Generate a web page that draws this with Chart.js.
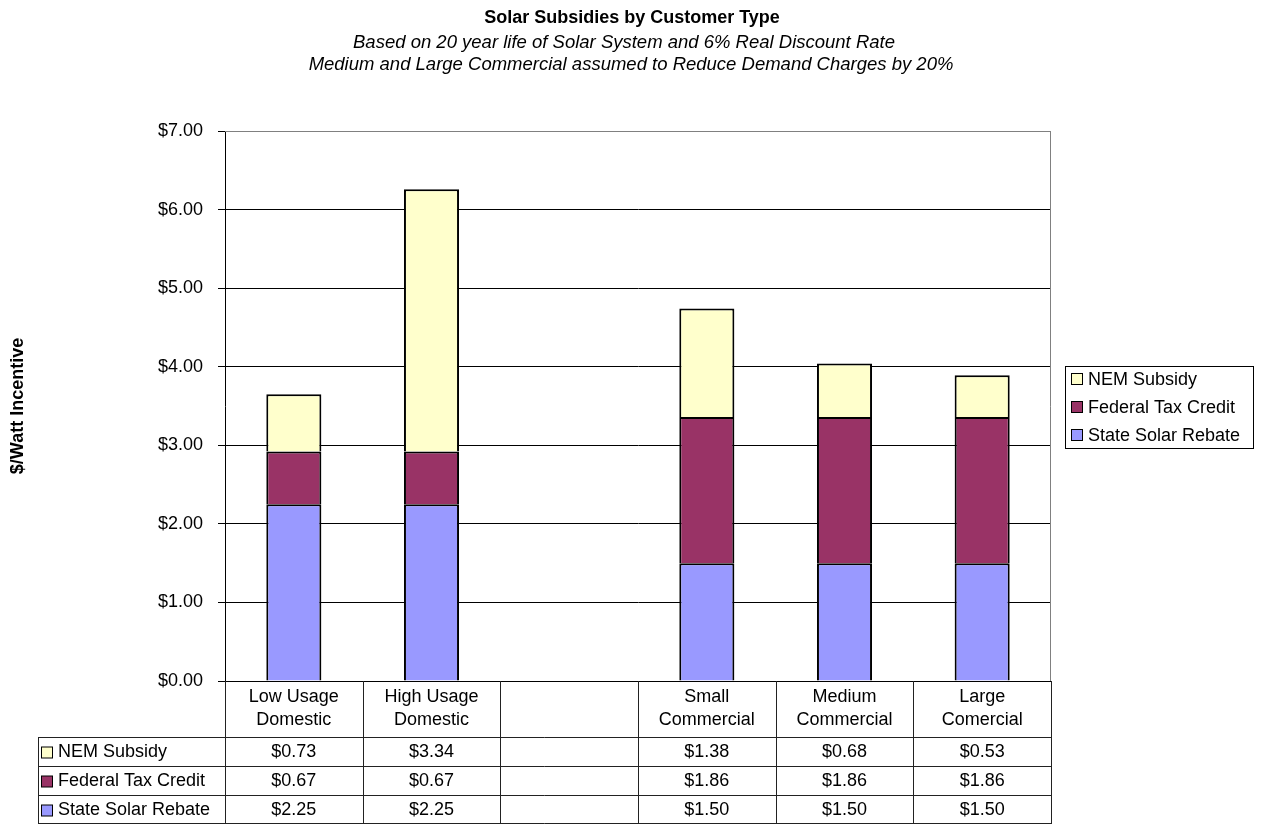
<!DOCTYPE html>
<html>
<head>
<meta charset="utf-8">
<title>Solar Subsidies by Customer Type</title>
<script src="https://cdn.jsdelivr.net/npm/chart.js@4.4.1/dist/chart.umd.min.js"></script>
<style>
  body { margin: 0; background: #fff; }
</style>
</head>
<body>
<canvas id="chart" width="1261" height="824"></canvas>
<script>
// ---- data ----
const categories = [['Low Usage', 'Domestic'], ['High Usage', 'Domestic'], '', ['Small', 'Commercial'], ['Medium', 'Commercial'], ['Large', 'Comercial']];
const stateRebate = [2.25, 2.25, null, 1.50, 1.50, 1.50];
const fedTaxCredit = [0.67, 0.67, null, 1.86, 1.86, 1.86];
const nemSubsidy = [0.73, 3.34, null, 1.38, 0.68, 0.53];
const seriesNames = ['State Solar Rebate', 'Federal Tax Credit', 'NEM Subsidy'];
const seriesColors = ['#9999FF', '#993366', '#FFFFCC'];
const yMin = 0, yMax = 7, yStep = 1;

const titleText = 'Solar Subsidies by Customer Type';
const subtitleLines = [
  'Based on 20 year life of Solar System and 6% Real Discount Rate',
  'Medium and Large Commercial assumed to Reduce Demand Charges by 20%'
];
const yTitle = '$/Watt Incentive';

const FONT = "'Liberation Sans', Arial, sans-serif";
const money = v => '$' + v.toFixed(2);

// title, legend box and the data table underneath
const extrasPlugin = {
  id: 'extras',
  afterDraw(chart) {
    const ctx = chart.ctx;
    const area = chart.chartArea;
    const xs = chart.scales.x;
    ctx.save();

    // titles
    ctx.fillStyle = '#000';
    ctx.textAlign = 'center';
    ctx.textBaseline = 'middle';
    ctx.font = 'bold 18px ' + FONT;
    ctx.fillText(titleText, 632, 18);
    ctx.font = 'italic 18.5px ' + FONT;
    ctx.fillText(subtitleLines[0], 624, 43);
    ctx.fillText(subtitleLines[1], 631, 65);

    // plot border (grey top/right)
    ctx.strokeStyle = '#808080';
    ctx.lineWidth = 1;
    ctx.beginPath();
    ctx.moveTo(area.left, area.top + 0.5);
    ctx.lineTo(area.right - 0.5, area.top + 0.5);
    ctx.lineTo(area.right - 0.5, area.bottom);
    ctx.stroke();

    // series in legend order (top = last stacked)
    const order = [2, 1, 0];

    // legend
    ctx.strokeStyle = '#000';
    ctx.strokeRect(1065.5, 366.5, 188, 82);
    ctx.font = '18px ' + FONT;
    ctx.textAlign = 'left';
    order.forEach((d, i) => {
      const y = 379 + i * 28;
      ctx.fillStyle = seriesColors[d];
      ctx.fillRect(1071.5, y - 5.5, 11, 11);
      ctx.strokeRect(1071.5, y - 5.5, 11, 11);
      ctx.fillStyle = '#000';
      ctx.fillText(seriesNames[d], 1088, y + 1);
    });

    // data table
    const colW = (area.right - area.left) / categories.length;
    const headTop = area.bottom, rowTop = 737, rowH = 29, tableLeft = 38.5;
    ctx.strokeStyle = '#222';
    ctx.beginPath();
    for (let r = 0; r <= 3; r++) {
      const y = Math.min(rowTop + r * rowH + 0.5, 823.5);
      ctx.moveTo(tableLeft, y);
      ctx.lineTo(area.right, y);
    }
    ctx.moveTo(tableLeft, rowTop);
    ctx.lineTo(tableLeft, 824);
    for (let i = 0; i <= categories.length; i++) {
      const x = Math.round(area.left + i * colW) + 0.5;
      ctx.moveTo(x, headTop);
      ctx.lineTo(x, 824);
    }
    ctx.stroke();

    ctx.fillStyle = '#000';
    ctx.textAlign = 'center';
    categories.forEach((c, i) => {
      const cx = xs.getPixelForValue(i);
      const lines = Array.isArray(c) ? c : [c];
      lines.forEach((t, k) => ctx.fillText(t, cx, 697 + k * 23));
    });

    const tableData = [nemSubsidy, fedTaxCredit, stateRebate];
    order.forEach((d, r) => {
      const y = rowTop + r * rowH + rowH / 2 + 1;
      ctx.textAlign = 'left';
      ctx.fillStyle = seriesColors[d];
      ctx.fillRect(41.5, y - 5.5, 11, 11);
      ctx.strokeStyle = '#000';
      ctx.strokeRect(41.5, y - 5.5, 11, 11);
      ctx.fillStyle = '#000';
      ctx.fillText(seriesNames[d], 58, y);
      ctx.textAlign = 'center';
      tableData[r].forEach((v, i) => {
        if (v !== null) ctx.fillText(money(v), xs.getPixelForValue(i), y);
      });
    });

    ctx.restore();
  }
};

const datasets = seriesNames.map((name, d) => ({
  label: name,
  data: [stateRebate, fedTaxCredit, nemSubsidy][d],
  backgroundColor: seriesColors[d],
  borderColor: '#000',
  borderWidth: { top: 2, left: 2, right: 2, bottom: 0 },
  borderSkipped: false,
  categoryPercentage: 1,
  barPercentage: 0.4
}));

new Chart(document.getElementById('chart'), {
  type: 'bar',
  data: { labels: categories, datasets: datasets },
  options: {
    responsive: false,
    devicePixelRatio: 1,
    animation: false,
    layout: { padding: { left: 0, top: 131, right: 210, bottom: 143 } },
    plugins: {
      legend: { display: false },
      title: { display: false },
      tooltip: { enabled: false }
    },
    scales: {
      x: {
        stacked: true,
        ticks: { display: false },
        grid: { display: false },
        border: { display: true, color: '#000', width: 1 },
        afterFit(scale) { scale.height = 0; }
      },
      y: {
        stacked: true,
        min: yMin,
        max: yMax,
        ticks: {
          stepSize: yStep,
          padding: 15,
          color: '#000',
          font: { family: FONT, size: 18 },
          callback: v => money(v)
        },
        grid: {
          color: c => (c.tick && c.tick.value === yMax ? '#808080' : '#000'),
          tickColor: '#000',
          tickLength: 7,
          lineWidth: 1
        },
        border: { display: true, color: '#000', width: 1 },
        title: {
          display: true,
          text: yTitle,
          color: '#000',
          font: { family: FONT, size: 18, weight: 'bold' },
          padding: { top: 7, bottom: 0 }
        },
        afterFit(scale) { scale.width = 225; }
      }
    }
  },
  plugins: [extrasPlugin]
});
</script>
</body>
</html>
